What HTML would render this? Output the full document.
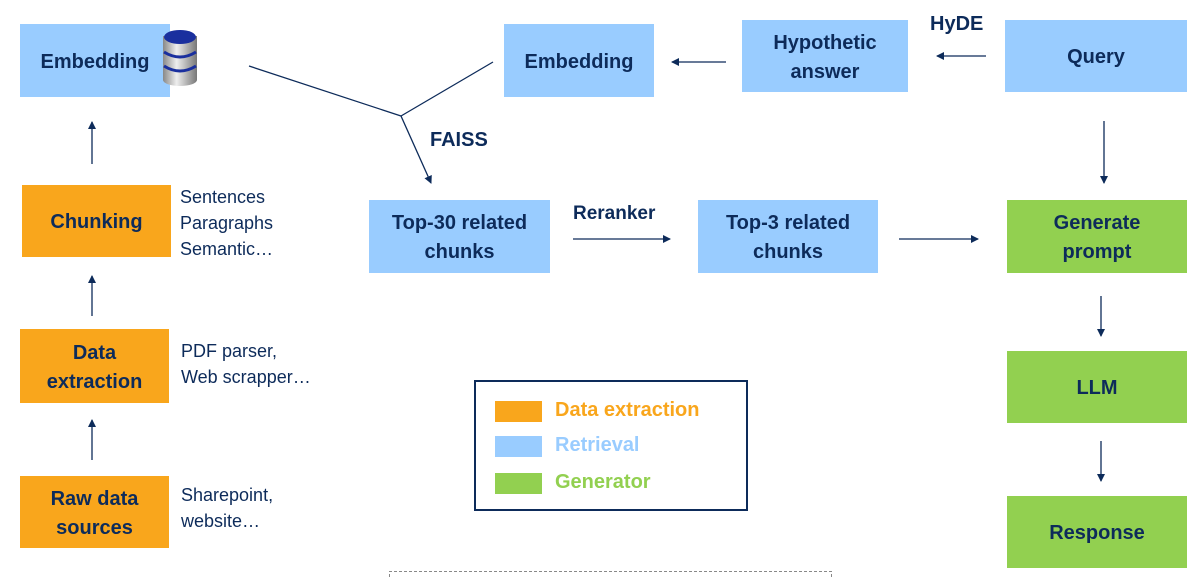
<!DOCTYPE html>
<html style="width:1201px;height:577px;overflow:hidden"><head><meta charset="utf-8"><style>
body{margin:0;width:1201px;height:577px;background:#fff;position:relative;overflow:hidden;font-family:"Liberation Sans",sans-serif;color:#0d2b5a}
.b{position:absolute;display:flex;align-items:center;justify-content:center;text-align:center;font-weight:bold;font-size:20px;line-height:29px;color:#0d2b5a;box-sizing:border-box;padding-top:3px}
.bl{background:#99CCFF}.or{background:#F9A61C}.gr{background:#92D050}
.t{position:absolute;font-size:18px;line-height:26px;color:#0d2b5a}
.lb{position:absolute;font-weight:bold;font-size:20px;color:#0d2b5a}
</style></head><body>
<div class="b bl" style="left:20px;top:24px;width:150px;height:73px">Embedding</div>
<div class="b bl" style="left:504px;top:24px;width:150px;height:73px">Embedding</div>
<div class="b bl" style="left:742px;top:20px;width:166px;height:72px">Hypothetic<br>answer</div>
<div class="b bl" style="left:1005px;top:20px;width:182px;height:72px">Query</div>
<div class="b or" style="left:22px;top:185px;width:149px;height:72px">Chunking</div>
<div class="b bl" style="left:369px;top:200px;width:181px;height:73px">Top-30 related<br>chunks</div>
<div class="b bl" style="left:698px;top:200px;width:180px;height:73px">Top-3 related<br>chunks</div>
<div class="b gr" style="left:1007px;top:200px;width:180px;height:73px">Generate<br>prompt</div>
<div class="b or" style="left:20px;top:329px;width:149px;height:74px">Data<br>extraction</div>
<div class="b gr" style="left:1007px;top:351px;width:180px;height:72px">LLM</div>
<div class="b or" style="left:20px;top:476px;width:149px;height:72px">Raw data<br>sources</div>
<div class="b gr" style="left:1007px;top:496px;width:180px;height:72px">Response</div>
<div class="t" style="left:180px;top:184px">Sentences<br>Paragraphs<br>Semantic…</div>
<div class="t" style="left:181px;top:338px">PDF parser,<br>Web scrapper…</div>
<div class="t" style="left:181px;top:482px">Sharepoint,<br>website…</div>
<div class="lb" style="left:430px;top:129px">FAISS</div>
<div class="lb" style="left:930px;top:13px">HyDE</div>
<div class="lb" style="left:573px;top:203px;font-size:19px">Reranker</div>
<div style="position:absolute;left:474px;top:380px;width:270px;height:127px;border:2px solid #0d2b5a"></div>
<div style="position:absolute;left:495px;top:401px;width:47px;height:21px;background:#F9A61C"></div>
<div style="position:absolute;left:495px;top:436px;width:47px;height:21px;background:#99CCFF"></div>
<div style="position:absolute;left:495px;top:473px;width:47px;height:21px;background:#92D050"></div>
<div class="lb" style="left:555px;top:399px;color:#F9A61C">Data extraction</div>
<div class="lb" style="left:555px;top:434px;color:#99CCFF">Retrieval</div>
<div class="lb" style="left:555px;top:471px;color:#92D050">Generator</div>
<svg width="1201" height="577" style="position:absolute;left:0;top:0">
<defs>
<linearGradient id="g" x1="0" x2="1"><stop offset="0" stop-color="#888"/><stop offset=".4" stop-color="#eee"/><stop offset="1" stop-color="#777"/></linearGradient>
<marker id="a" markerWidth="8" markerHeight="8" refX="7" refY="4" orient="auto" markerUnits="userSpaceOnUse"><path d="M0,0L8,4L0,8z" fill="#0d2b5a"/></marker>
</defs>
<rect x="163" y="36" width="34" height="44" fill="url(#g)"/>
<ellipse cx="180" cy="80" rx="17" ry="6" fill="url(#g)"/>
<ellipse cx="180" cy="37" rx="16" ry="7" fill="#1a2f9e"/>
<path d="M164,52 Q180,62 196,52 M164,66 Q180,76 196,66" stroke="#1a2f9e" stroke-width="3" fill="none"/>
<path d="M389.5,577 V571.5 H831.5 V577" stroke="#888" stroke-dasharray="3,2" fill="none"/>
<g stroke="#0d2b5a" stroke-width="1.3" fill="none">
<line x1="92" y1="164" x2="92" y2="122" marker-end="url(#a)"/>
<line x1="92" y1="316" x2="92" y2="276" marker-end="url(#a)"/>
<line x1="92" y1="460" x2="92" y2="420" marker-end="url(#a)"/>
<line x1="249" y1="66" x2="401" y2="116"/>
<line x1="493" y1="62" x2="401" y2="116"/>
<line x1="401" y1="116" x2="431" y2="183" marker-end="url(#a)"/>
<line x1="726" y1="62" x2="672" y2="62" marker-end="url(#a)"/>
<line x1="986" y1="56" x2="937" y2="56" marker-end="url(#a)"/>
<line x1="1104" y1="121" x2="1104" y2="183" marker-end="url(#a)"/>
<line x1="573" y1="239" x2="670" y2="239" marker-end="url(#a)"/>
<line x1="899" y1="239" x2="978" y2="239" marker-end="url(#a)"/>
<line x1="1101" y1="296" x2="1101" y2="336" marker-end="url(#a)"/>
<line x1="1101" y1="441" x2="1101" y2="481" marker-end="url(#a)"/>
</g></svg>
</body></html>
